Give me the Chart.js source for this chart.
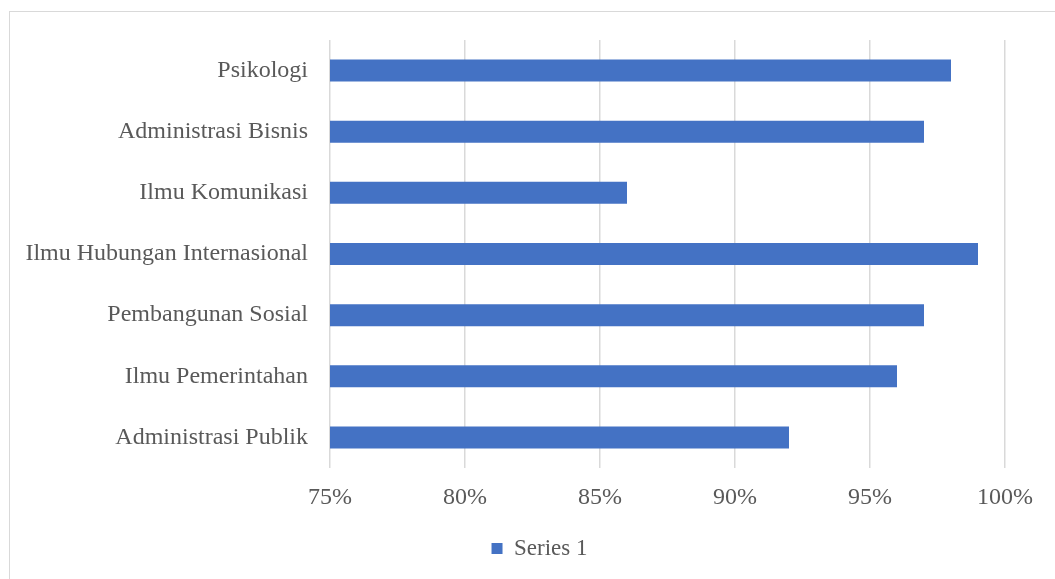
<!DOCTYPE html>
<html>
<head>
<meta charset="utf-8">
<script src="https://cdn.jsdelivr.net/npm/chart.js@4/dist/chart.umd.min.js"></script>
<style>
  html, body { margin: 0; padding: 0; background: #fff; overflow: hidden; }
  #frame { position: absolute; left: 9px; top: 11px; width: 1100px; height: 600px; border: 1px solid #d9d9d9; box-sizing: border-box; }
  #wrap { position: absolute; left: 0; top: 0; width: 1055px; height: 579px; }
</style>
</head>
<body>
<div id="frame"></div>
<div id="wrap"><canvas id="chart"></canvas></div>
<script>
// categories, bottom to top as in the picture
const categories = [
  "Administrasi Publik",
  "Ilmu Pemerintahan",
  "Pembangunan Sosial",
  "Ilmu Hubungan Internasional",
  "Ilmu Komunikasi",
  "Administrasi Bisnis",
  "Psikologi"
];
const series1 = [0.92, 0.96, 0.97, 0.99, 0.86, 0.97, 0.98];
const seriesName = "Series 1";
const xTicks = [0.75, 0.80, 0.85, 0.90, 0.95, 1.00];

const textColor = "#595959";
const fontFamily = "'Liberation Serif', 'Times New Roman', serif";

// the legend in the picture sits a bit right of the canvas centre
const legendShift = {
  id: "legendShift",
  afterLayout(chart) {
    if (chart.legend) {
      chart.legend.left += 37;
      chart.legend.right += 37;
    }
  }
};

new Chart(document.getElementById("chart"), {
  type: "bar",
  data: {
    labels: categories,
    datasets: [{
      label: seriesName,
      data: series1,
      backgroundColor: "#4472C4",
      borderWidth: 0,
      categoryPercentage: 1,
      barPercentage: 0.36
    }]
  },
  options: {
    indexAxis: "y",
    responsive: true,
    maintainAspectRatio: false,
    animation: false,
    layout: { padding: { top: 40, right: 50, bottom: 9, left: 0 } },
    scales: {
      x: {
        min: 0.75,
        max: 1.0,
        afterBuildTicks: (scale) => { scale.ticks = xTicks.map(v => ({ value: v })); },
        afterFit: (scale) => { scale.height = 59; },
        grid: { color: "#d9d9d9", lineWidth: 1.5, drawTicks: false },
        border: { display: false },
        ticks: {
          color: textColor,
          padding: 15,
          font: { family: fontFamily, size: 24 },
          callback: (v) => Math.round(v * 100) + "%"
        }
      },
      y: {
        reverse: true,
        afterFit: (scale) => { scale.width = 330; },
        grid: { display: false, drawTicks: false },
        border: { display: false },
        ticks: {
          color: textColor,
          padding: 22,
          font: { family: fontFamily, size: 24 }
        }
      }
    },
    plugins: {
      legend: {
        position: "bottom",
        labels: {
          color: textColor,
          boxWidth: 11,
          boxHeight: 11,
          padding: 10,
          font: { family: fontFamily, size: 23 }
        }
      },
      tooltip: { enabled: false }
    }
  },
  plugins: [legendShift]
});
</script>
</body>
</html>
